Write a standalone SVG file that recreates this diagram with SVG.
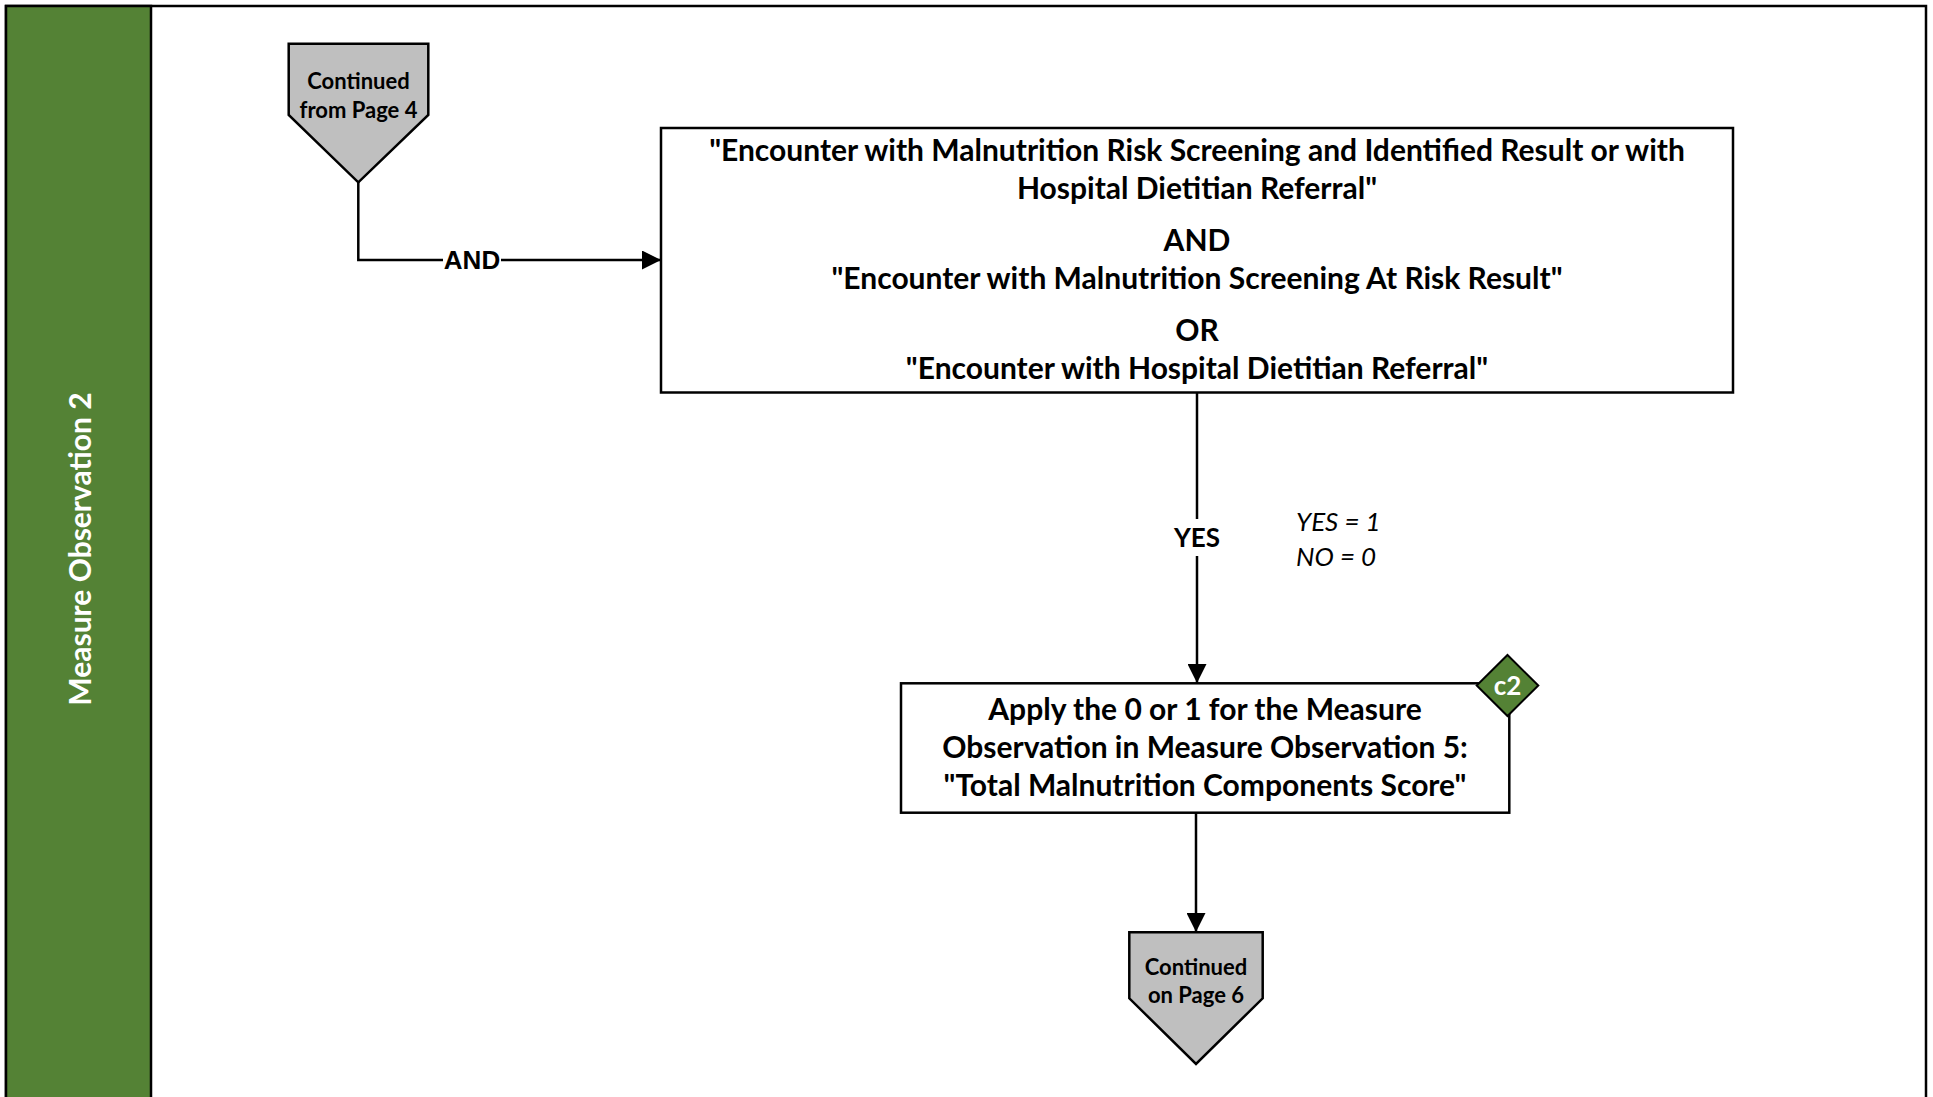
<svg xmlns="http://www.w3.org/2000/svg" width="1933" height="1097" viewBox="0 0 1933 1097">
  <style>
    .lane { fill: #548235; stroke: #000; stroke-width: 2.5; }
    .frame { fill: #fff; stroke: #000; stroke-width: 2.5; }
    .box { fill: #fff; stroke: #000; stroke-width: 2.5; }
    .offpage { fill: #bfbfbf; stroke: #000; stroke-width: 2.5; }
    .tag { fill: #548235; stroke: #000; stroke-width: 2; }
    .wire { fill: none; stroke: #000; stroke-width: 2.5; }
    text { font-family: Lato, "Open Sans", "Liberation Sans", sans-serif; fill: #000; text-anchor: middle; }
    .b { font-weight: bold; }
    .main { font-size: 30px; font-weight: bold; }
    .yes { font-size: 26px; font-weight: bold; }
    .small { font-size: 22px; font-weight: bold; }
    .note { font-size: 26px; font-style: italic; text-anchor: start; }
    .lbl { font-family: "Liberation Sans", Arial, sans-serif; font-size: 26px; font-weight: bold; }
  </style>
  <defs>
    <marker id="head" viewBox="0 0 10 10" refX="10" refY="5" markerWidth="19" markerHeight="19" markerUnits="userSpaceOnUse" orient="auto">
      <path d="M0,0 L10,5 L0,10 z" fill="#000"/>
    </marker>
  </defs>

  <!-- swimlane frame and header -->
  <g id="lane">
    <rect class="frame" x="6" y="6" width="1920" height="1100"/>
    <rect class="lane" x="6" y="6" width="145" height="1100"/>
    <text class="b" transform="translate(91,549) rotate(-90)" font-size="30" style="fill:#fff">Measure Observation 2</text>
  </g>

  <!-- connectors -->
  <g id="connectors">
    <polyline class="wire" points="358.3,182 358.3,260 661,260" marker-end="url(#head)"/>
    <line class="wire" x1="1197" y1="392.5" x2="1197" y2="519"/>
    <line class="wire" x1="1197" y1="556" x2="1197" y2="683" marker-end="url(#head)"/>
    <line class="wire" x1="1196" y1="812.5" x2="1196" y2="932" marker-end="url(#head)"/>
    <rect x="443" y="247" width="58" height="26" fill="#fff"/>
    <text class="lbl" x="472" y="269">AND</text>
    <text class="yes" x="1197" y="547">YES</text>
    <text class="note" x="1296" y="531">YES = 1</text>
    <text class="note" x="1296" y="566">NO = 0</text>
  </g>

  <!-- off-page connector: from page 4 -->
  <g id="from-page-4">
    <polygon class="offpage" points="288.7,43.7 428.3,43.7 428.3,115 358.3,182.3 288.7,115"/>
    <text class="small" x="358.5" y="89">Continued</text>
    <text class="small" x="358.5" y="118">from Page 4</text>
  </g>

  <!-- criteria box -->
  <g id="criteria">
    <rect class="box" x="661" y="128" width="1072" height="264.5"/>
    <text class="main" x="1197" y="161">"Encounter with Malnutrition Risk Screening and Identified Result or with</text>
    <text class="main" x="1197" y="199">Hospital Dietitian Referral"</text>
    <text class="main" x="1197" y="251">AND</text>
    <text class="main" x="1197" y="289">"Encounter with Malnutrition Screening At Risk Result"</text>
    <text class="main" x="1197" y="341">OR</text>
    <text class="main" x="1197" y="379">"Encounter with Hospital Dietitian Referral"</text>
  </g>

  <!-- apply score box -->
  <g id="apply-score">
    <rect class="box" x="901" y="683.3" width="608.3" height="129.4"/>
    <text class="main" x="1205" y="720">Apply the 0 or 1 for the Measure</text>
    <text class="main" x="1205" y="758">Observation in Measure Observation 5:</text>
    <text class="main" x="1205" y="796">"Total Malnutrition Components Score"</text>
  </g>

  <!-- c2 tag -->
  <g id="tag-c2">
    <polygon class="tag" points="1507.5,655 1538.3,685.5 1507.5,716 1476.7,685.5"/>
    <text class="b" x="1507.5" y="695" font-size="26" style="fill:#fff">c2</text>
  </g>

  <!-- off-page connector: to page 6 -->
  <g id="to-page-6">
    <polygon class="offpage" points="1129.3,932.3 1262.7,932.3 1262.7,998.3 1196,1064 1129.3,998.3"/>
    <text class="small" x="1196" y="975">Continued</text>
    <text class="small" x="1196" y="1003">on Page 6</text>
  </g>
</svg>
